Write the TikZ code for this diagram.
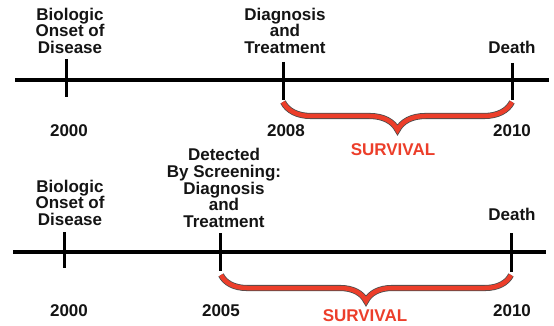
\documentclass[tikz,border=0pt]{standalone}
\usepackage{fontspec}
\setmainfont{Liberation Sans}
\usetikzlibrary{decorations.pathreplacing}

\definecolor{survred}{RGB}{236,62,42}

\begin{document}
\begin{tikzpicture}[x=1pt, y=-1pt,
  lbl/.style={font=\bfseries\fontsize{17}{16.8}\selectfont, align=center,
              inner sep=0pt, anchor=south, text=black!92},
  yr/.style={font=\bfseries\fontsize{17}{17}\selectfont, inner sep=0pt,
             anchor=base, text=black!92},
  surv/.style={font=\bfseries\fontsize{17}{17}\selectfont, inner sep=0pt,
               anchor=base, text=survred},
  axis/.style={line width=3.5pt},
  tickmark/.style={line width=3pt},
  survbrace/.style={decorate, decoration={brace, mirror, amplitude=#1},
                    draw=black!70, line width=0.8pt,
                    double=survred, double distance=4.5pt}
]
  \useasboundingbox (0,0) rectangle (554,326);

  % top timeline
  \draw[axis] (15,80) -- (549,80);
  \coordinate (a1) at (66,97);
  \coordinate (a2) at (283,102);
  \coordinate (a3) at (512,102);
  \draw[tickmark] (66,59) -- (a1);
  \draw[tickmark] (283,62) -- (283,100);
  \draw[tickmark] (512,63) -- (512,100);
  \node[lbl] (onsetA) at (70,54) {Biologic\\Onset of\\Disease};
  \node[lbl] (diagA)  at (285,54) {Diagnosis\\and\\Treatment};
  \node[lbl] (deathA) at (512,54) {Death};
  \node[yr] (yrA1) at (69,137) {2000};
  \node[yr] (yrA2) at (286,137) {2008};
  \node[yr] (yrA3) at (512,137) {2010};
  \draw[survbrace=28] (a2) -- (a3);
  \node[surv] (survA) at (393,155) {SURVIVAL};

  % bottom timeline
  \draw[axis] (13,252) -- (546,252);
  \coordinate (b1) at (64,268);
  \coordinate (b2) at (221,275);
  \coordinate (b3) at (511,275);
  \draw[tickmark] (64,232) -- (b1);
  \draw[tickmark] (220,233) -- (220,271);
  \draw[tickmark] (511,233) -- (511,272);
  \node[lbl] (onsetB) at (70,226) {Biologic\\Onset of\\Disease};
  \node[lbl] (diagB)  at (224,228) {Detected\\By Screening:\\Diagnosis\\and\\Treatment};
  \node[lbl] (deathB) at (512,221) {Death};
  \node[yr] (yrB1) at (69,316) {2000};
  \node[yr] (yrB2) at (221,316) {2005};
  \node[yr] (yrB3) at (512,316) {2010};
  \draw[survbrace=26] (b2) -- (b3);
  \node[surv] (survB) at (365,321) {SURVIVAL};
\end{tikzpicture}
\end{document}
